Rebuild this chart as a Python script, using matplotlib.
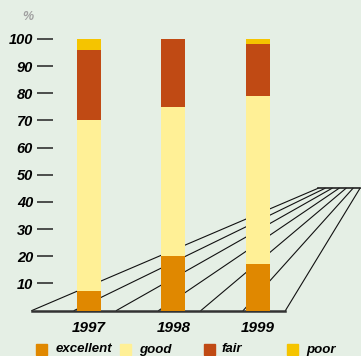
import matplotlib
matplotlib.use("Agg")
import matplotlib.pyplot as plt
from matplotlib.patches import Rectangle

years = ["1997", "1998", "1999"]
categories = ["excellent", "good", "fair", "poor"]
excellent = [7, 20, 17]
good = [63, 55, 62]
fair = [26, 25, 19]
poor = [4, 0, 2]
yticks = [10, 20, 30, 40, 50, 60, 70, 80, 90, 100]

colors = ["#e08800", "#fff096", "#c04a14", "#f5c400"]
bg = "#e5efe5"
font = dict(family="Liberation Sans", weight="bold", style="italic")

W, H = 361, 356
fig = plt.figure(figsize=(W / 100, H / 100), dpi=100, facecolor=bg)
ax = fig.add_axes([53 / W, (H - 310.5) / H, (W - 53) / W, 271.5 / H])
ax.set_facecolor(bg)
ax.set_xlim(-0.426, 3.219)
ax.set_ylim(0, 100)
for s in ax.spines.values():
    s.set_visible(False)

# decorative perspective floor
base_pts = [-0.675 + 0.5 * i for i in range(7)]
top_pts = [2.71 + 0.0828 * i for i in range(7)]
for b, t in zip(base_pts, top_pts):
    ax.plot([b, t], [0, 45], color="#111111", lw=0.8, clip_on=False, zorder=1)
ax.plot([top_pts[0], top_pts[-1]], [45, 45], color="#222222", lw=1.2, clip_on=False, zorder=1)
ax.plot([base_pts[0], base_pts[-1]], [0, 0], color="#333333", lw=1.8, clip_on=False, zorder=2)

x = list(range(len(years)))
bottom = [0, 0, 0]
for vals, c in zip([excellent, good, fair, poor], colors):
    ax.bar(x, vals, bottom=bottom, width=0.284, color=c, zorder=3, clip_on=False)
    bottom = [b + v for b, v in zip(bottom, vals)]

ax.set_yticks(yticks)
ax.set_yticklabels([str(v) for v in yticks], **font, fontsize=10.5)
ax.tick_params(axis="y", direction="out", length=11.5, width=1.1, color="#222222", pad=2.9)
ax.set_xticks(x)
ax.set_xticklabels(years, **font, fontsize=11)
ax.tick_params(axis="x", length=0, pad=7.5)

fig.text(27.5 / W, 1 - 17.5 / H, "%", color="#a0a0a0", ha="center", va="center",
         fontsize=9, **font)

# legend
for i, (name, c) in enumerate(zip(categories, colors)):
    sx = [36, 120, 204, 287][i]
    tx = [56, 139, 222, 306][i]
    fig.patches.append(Rectangle((sx / W, 1 - 355 / H), 11 / W, 11 / H,
                                 transform=fig.transFigure, color=c))
    fig.text(tx / W, 1 - 349.5 / H, name, ha="left", va="center", fontsize=9.5, **font)

fig.savefig("out.png", dpi=100, facecolor=bg)
